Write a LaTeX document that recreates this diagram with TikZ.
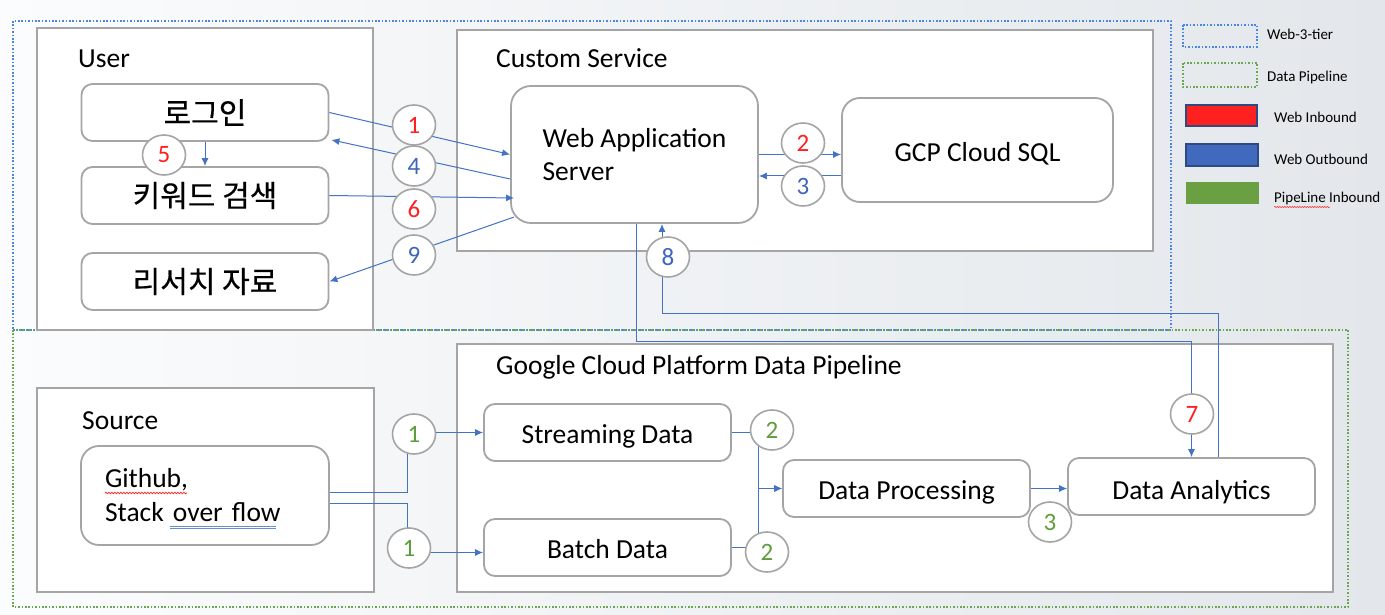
\documentclass[tikz,border=0pt]{standalone}
\usepackage{fontspec}
\setmainfont{Carlito}
\newfontfamily\kr[FakeBold=0.4]{Noto Sans CJK KR}
\usetikzlibrary{arrows.meta,shapes.geometric,decorations.pathmorphing}
\definecolor{flowblue}{HTML}{4472C4}
\definecolor{boxgray}{HTML}{A5A5A5}
\definecolor{numred}{HTML}{FF1F1F}
\definecolor{numblue}{HTML}{3D66B8}
\definecolor{numgreen}{HTML}{5E9E3A}
\definecolor{tierblue}{HTML}{4A86E8}
\definecolor{pipegreen}{HTML}{6AA84F}
\definecolor{bgleft}{HTML}{FBFCFD}
\definecolor{bgright}{HTML}{E3E7EB}
\definecolor{legred}{HTML}{FF2020}
\definecolor{legblue}{HTML}{4169BE}
\definecolor{legedge}{HTML}{2F4A80}
\definecolor{leggreen}{HTML}{6AA042}
\begin{document}
\begin{tikzpicture}[x=1pt,y=-1pt,
  container/.style={draw=boxgray,line width=2.2pt,fill=white,inner sep=0pt},
  task/.style={draw=boxgray,line width=1.8pt,fill=white,rounded corners=11pt,
    inner sep=0pt,minimum width=247pt,minimum height=57pt,
    font=\fontsize{27.5}{33}\selectfont},
  oneline/.style={text height=21pt,text depth=0pt},
  korean/.style={font=\fontsize{30}{34}\selectfont\kr},
  badge/.style={ellipse,draw=boxgray,line width=1.6pt,fill=white,
    minimum width=43pt,minimum height=40pt,inner sep=0pt,
    font=\fontsize{25}{29}\selectfont},
  flow/.style={draw=flowblue,line width=1pt,-{Latex[length=8pt,width=7pt]}},
  title/.style={anchor=base west,inner sep=0pt,font=\fontsize{27.5}{33}\selectfont},
  legend/.style={anchor=base west,inner sep=0pt,font=\fontsize{15}{18}\selectfont},
  tier/.style={draw=tierblue,line width=1.6pt,dash pattern=on 1.6pt off 1.8pt},
  pipe/.style={draw=pipegreen,line width=1.6pt,dash pattern=on 1.6pt off 1.8pt},
  squiggle/.style={draw=numred,line width=0.7pt,decorate,
    decoration={snake,amplitude=0.8pt,segment length=3pt}}]
\useasboundingbox (0,0) rectangle (1385,615);
\shade[left color=bgleft,right color=bgright] (0,0) rectangle (1385,615);

% dotted tiers
\draw[tier] (13,21) rectangle (1171,330);
\draw[pipe] (13,330) rectangle (1348,607);

% web side
\node[container,minimum width=336pt,minimum height=302pt] (user) at (205,179) {};
\node[container,minimum width=696pt,minimum height=221pt] (custom) at (805,140.5) {};
\node[title] (usertitle) at (78,68) {User};
\node[title] (customtitle) at (496,68) {Custom Service};
\node[task,korean] (login) at (205,112.5) {로그인};
\node[task,korean] (search) at (205,195.5) {키워드 검색};
\node[task,korean] (research) at (205,281.5) {리서치 자료};
\node[task,minimum height=137pt,rounded corners=20pt,align=left] (webapp) at (634.5,154.5) {Web Application\\Server};
\node[task,oneline,minimum width=271pt,minimum height=104pt,rounded corners=18pt,text height=23pt] (sql) at (977.5,150) {GCP Cloud SQL};

% pipeline side
\node[container,minimum width=337pt,minimum height=204pt] (source) at (205.5,490) {};
\node[container,minimum width=876pt,minimum height=248pt] (gcp) at (895,468) {};
\node[title] (sourcetitle) at (82,429) {Source};
\node[title] (gcptitle) at (496,374) {Google Cloud Platform Data Pipeline};
\node[task,minimum width=248pt,minimum height=99pt,rounded corners=18pt,
  text width=200pt,inner xsep=24pt,align=left,
  font=\fontsize{27.5}{34}\selectfont] (github) at (205,495.5) {Github,\\Stack over flow};
\node[task,oneline] (stream) at (607.5,432.5) {Streaming Data};
\node[task,oneline] (batch) at (607.5,547.5) {Batch Data};
\node[task,oneline] (proc) at (906.5,488.5) {Data Processing};
\node[task,oneline,text height=25pt] (analytics) at (1191.5,486.5) {Data Analytics};

% spelling marks
\draw[squiggle] (105,493) -- (187,493);
\draw[flowblue!80,line width=0.8pt] (170,526) -- (276,526) (170,528.7) -- (276,528.7);

% web flows
\draw[flow] (login.east) -- (webapp.west);
\draw[flow] ([yshift=-24.5pt]webapp.west) -- ([xshift=2pt,yshift=2pt]login.south east);
\draw[flow] (search.east) -- ([xshift=4pt,yshift=-43.5pt]webapp.west);
\draw[flow] ([xshift=4pt,yshift=-62.5pt]webapp.west) -- (research.east);
\draw[flow] (login.south) -- (search.north);
\draw[flow] (webapp.east) -- (webapp.east -| sql.west);
\coordinate (sqlback) at ([yshift=-26pt]sql.west);
\draw[flow] (sqlback) -- (sqlback -| webapp.east);
\draw[flow] ([xshift=1.5pt]webapp.south) -- ++(0,118) -| (analytics.north);
\draw[flow] ([xshift=26.5pt]analytics.north) -- ++(0,-144) -| ([xshift=27.5pt]webapp.south);

% pipeline flows
\draw[flow] ([yshift=3.5pt]github.east) -- ++(78,0) |- (stream.west);
\draw[flow] ([yshift=-7.5pt]github.east) -- ++(78,0) |- ([yshift=-5pt]batch.west);
\draw[flow] (stream.east) -- ++(26.5,0) |- (proc.west);
\draw[flow] (batch.east) -- ++(26.5,0) |- (proc.west);
\draw[flow] (proc.east) -- (proc.east -| analytics.west);

% step numbers
\node[badge,text=numred] (w1) at (414,125) {1};
\node[badge,text=numblue] (w4) at (414,166) {4};
\node[badge,text=numred] (w6) at (414,209) {6};
\node[badge,text=numblue] (w9) at (414,255) {9};
\node[badge,text=numred] (w5) at (164,155) {5};
\node[badge,text=numred] (w2) at (803,143) {2};
\node[badge,text=numblue] (w3) at (803,186) {3};
\node[badge,text=numblue] (w8) at (668,257) {8};
\node[badge,text=numred] (w7) at (1192,414) {7};
\node[badge,text=numgreen] (p1a) at (414,434) {1};
\node[badge,text=numgreen] (p1b) at (409,548) {1};
\node[badge,text=numgreen] (p2a) at (772,430) {2};
\node[badge,text=numgreen] (p2b) at (767,552) {2};
\node[badge,text=numgreen] (p3) at (1050,522) {3};

% legend
\draw[tier] (1183,25) rectangle (1257,47);
\node[legend] (legtier) at (1267,40) {Web-3-tier};
\draw[pipe] (1183,63) rectangle (1257,87);
\node[legend] (legpipe) at (1267,82) {Data Pipeline};
\draw[fill=legred,draw=legedge,line width=1.8pt] (1186,105) rectangle (1257,126);
\node[legend] (legin) at (1274,123) {Web Inbound};
\draw[fill=legblue,draw=legedge,line width=1.8pt] (1186,144) rectangle (1258,166);
\node[legend] (legout) at (1274,165) {Web Outbound};
\fill[leggreen] (1186,182) rectangle (1259,204);
\node[legend] (legpin) at (1274,203) {PipeLine Inbound};
\draw[squiggle,line width=0.5pt,decoration={snake,amplitude=0.6pt,segment length=2.5pt}] (1274,207) -- (1330,207);
\end{tikzpicture}
\end{document}
